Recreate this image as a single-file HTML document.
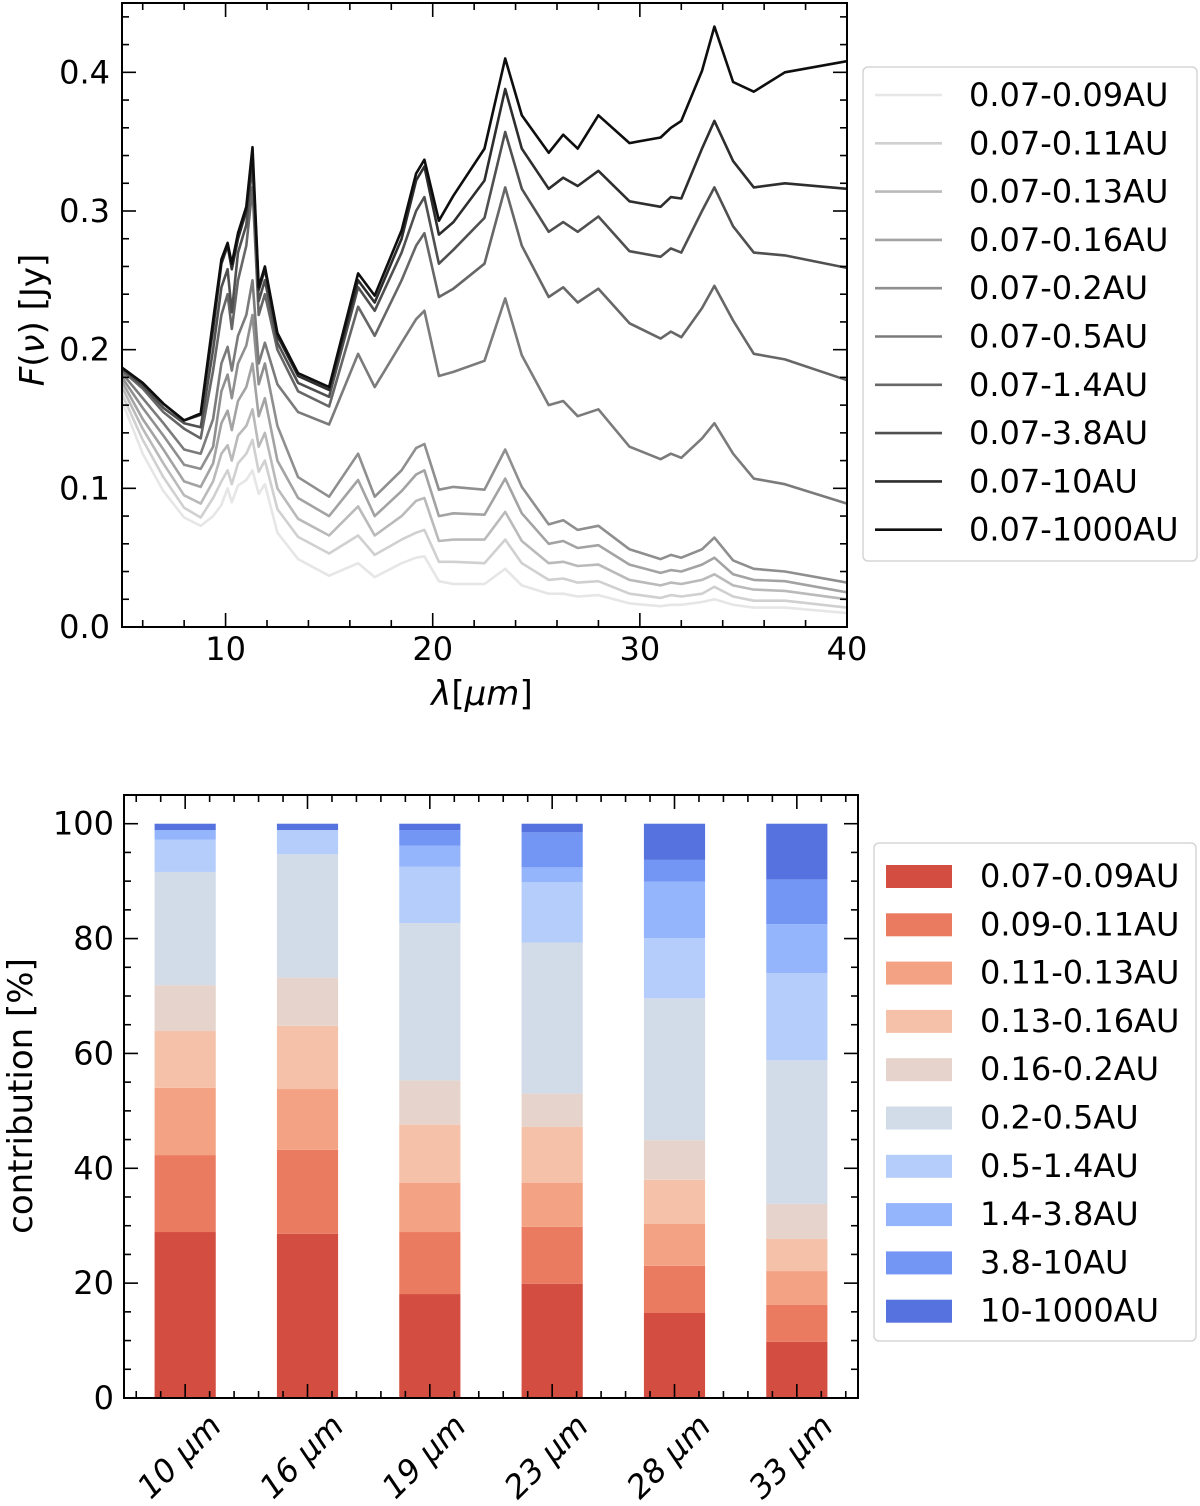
<!DOCTYPE html>
<html><head><meta charset="utf-8">
<style>
html,body{margin:0;padding:0;background:#fff;}
svg{display:block;font-family:"DejaVu Sans","Liberation Sans",sans-serif;}
</style></head>
<body>
<svg id="fig" width="1200" height="1506" viewBox="0 0 1200 1506" xmlns="http://www.w3.org/2000/svg">
<g id="topchart"></g>
<g id="botchart"></g>
</svg>
<script>
// ---------- top chart data ----------
const wavelengths = [5,6,7,8,8.8,9.4,9.8,10.1,10.3,10.6,11.0,11.3,11.6,11.9,12.5,13.5,15,16.4,17.2,18.5,19.2,19.6,20.3,21,22.5,23.5,24.3,25.6,26.3,27,28,29.5,31,31.5,32,33,33.6,34.5,35.5,37,40];
const flux_009 = [.163,.125,.098,.079,.073,.08,.088,.1,.09,.102,.106,.113,.096,.103,.068,.049,.037,.046,.036,.046,.05,.051,.033,.031,.031,.042,.030,.024,.024,.022,.023,.017,.015,.016,.016,.018,.020,.016,.014,.014,.010];
const flux_011 = [.168,.135,.108,.086,.079,.093,.105,.113,.103,.118,.125,.135,.112,.12,.085,.065,.053,.066,.052,.063,.068,.07,.047,.047,.046,.063,.046,.034,.035,.032,.033,.024,.021,.023,.022,.024,.029,.022,.019,.019,.014];
const flux_013 = [.173,.143,.118,.095,.089,.105,.125,.131,.12,.138,.145,.157,.13,.14,.1,.078,.066,.087,.066,.08,.091,.093,.062,.063,.063,.083,.062,.046,.047,.044,.045,.034,.03,.032,.031,.034,.038,.03,.027,.026,.02];
const flux_016 = [.177,.15,.128,.105,.101,.118,.147,.156,.142,.163,.173,.19,.152,.165,.12,.093,.08,.106,.08,.098,.11,.113,.08,.082,.081,.107,.082,.06,.062,.057,.059,.045,.039,.041,.04,.045,.05,.038,.034,.033,.025];
const flux_02 = [.18,.158,.138,.117,.114,.13,.17,.182,.165,.19,.203,.225,.175,.19,.145,.108,.094,.125,.094,.113,.129,.132,.099,.101,.099,.128,.101,.074,.077,.07,.073,.056,.049,.052,.05,.056,.0645,.048,.042,.04,.032];
const flux_05 = [.183,.165,.147,.128,.125,.15,.19,.202,.185,.21,.225,.25,.19,.205,.175,.155,.146,.197,.173,.205,.222,.228,.181,.184,.192,.237,.196,.16,.163,.152,.157,.13,.121,.125,.122,.136,.147,.125,.107,.103,.089];
const flux_14 = [.185,.172,.155,.143,.136,.185,.225,.24,.215,.25,.275,.317,.225,.24,.2,.17,.159,.231,.21,.25,.275,.284,.238,.244,.262,.317,.275,.238,.245,.234,.244,.219,.208,.213,.209,.23,.246,.221,.197,.193,.178];
const flux_38 = [.186,.174,.158,.147,.144,.2,.245,.258,.227,.27,.29,.334,.235,.25,.205,.176,.166,.245,.228,.27,.3,.31,.262,.272,.295,.357,.316,.285,.292,.285,.296,.271,.267,.273,.27,.3,.317,.289,.27,.268,.259];
const flux_10 = [.187,.176,.161,.149,.153,.215,.262,.275,.258,.28,.3,.341,.243,.258,.21,.181,.171,.25,.234,.28,.322,.332,.283,.292,.322,.388,.345,.316,.324,.318,.329,.307,.303,.31,.309,.345,.365,.336,.317,.32,.316];
const flux_1000 = [.187,.176,.161,.149,.154,.221,.265,.277,.262,.284,.303,.346,.245,.26,.212,.183,.173,.255,.239,.286,.327,.337,.293,.311,.345,.41,.369,.342,.355,.345,.369,.349,.353,.36,.365,.401,.433,.393,.386,.4,.408];
const seriesLabels = ["0.07-0.09AU","0.07-0.11AU","0.07-0.13AU","0.07-0.16AU","0.07-0.2AU","0.07-0.5AU","0.07-1.4AU","0.07-3.8AU","0.07-10AU","0.07-1000AU"];
const xTickLabels = ["10","20","30","40"];
const yTickLabels = ["0.0","0.1","0.2","0.3","0.4"];

// ---------- bottom chart data ----------
const bandLabels = ["10 μm","16 μm","19 μm","23 μm","28 μm","33 μm"];
const ringLabels = ["0.07-0.09AU","0.09-0.11AU","0.11-0.13AU","0.13-0.16AU","0.16-0.2AU","0.2-0.5AU","0.5-1.4AU","1.4-3.8AU","3.8-10AU","10-1000AU"];
const contrib_10 = [28.9,13.4,11.7,9.9,8.0,19.7,5.6,1.7,0,1.1];
const contrib_16 = [28.6,14.6,10.6,11.0,8.4,21.5,4.2,0,0,1.1];
const contrib_19 = [18.1,10.8,8.6,10.1,7.7,27.4,9.8,3.7,2.7,1.1];
const contrib_23 = [19.9,9.9,7.7,9.7,5.8,26.3,10.5,2.6,6.1,1.5];
const contrib_28 = [14.8,8.2,7.3,7.7,6.9,24.7,10.5,9.8,3.8,6.3];
const contrib_33 = [9.8,6.4,5.9,5.6,6.1,25.0,15.2,8.5,7.8,9.7];
const bottomYTicks = ["0","20","40","60","80","100"];

const NS = "http://www.w3.org/2000/svg";
function mk(tag, attrs, parent){const e=document.createElementNS(NS,tag);for(const k in attrs)e.setAttribute(k,attrs[k]);parent.appendChild(e);return e;}

// ===== TOP =====
const topG = document.getElementById('topchart');
const TX0=122, TX1=847, TY0=3, TY1=627;
const xs = v => TX0 + (v-5)/(40-5)*(TX1-TX0);
const ys = v => TY1 - v/0.45*(TY1-TY0);
const seriesData=[flux_009,flux_011,flux_013,flux_016,flux_02,flux_05,flux_14,flux_38,flux_10,flux_1000];
const grays=["#e6e6e6","#d0d0d0","#bababa","#a3a3a3","#8f8f8f","#7b7b7b","#676767","#505050","#2e2e2e","#0e0e0e"];
const clip = mk('clipPath',{id:'tclip'},topG);
mk('rect',{x:TX0,y:TY0,width:TX1-TX0,height:TY1-TY0},clip);
const lineG = mk('g',{'clip-path':'url(#tclip)'},topG);
seriesData.forEach((s,i)=>{
  const d = s.map((v,j)=>(j?'L':'M')+xs(wavelengths[j]).toFixed(1)+','+ys(v).toFixed(1)).join('');
  const p = mk('path',{d:d,fill:'none',stroke:grays[i],'stroke-width':2.6,'stroke-linejoin':'round'},lineG);
  
  
});
const tf = mk('rect',{x:TX0,y:TY0,width:TX1-TX0,height:TY1-TY0,fill:'none',stroke:'#000','stroke-width':2},topG);


for(let v=6; v<=40; v+=2){
  const X=xs(v), major = v%10===0, L = major?14:7;
  mk('line',{x1:X,y1:TY1,x2:X,y2:TY1-L,stroke:'#000','stroke-width':1.6},topG);
  mk('line',{x1:X,y1:TY0,x2:X,y2:TY0+L,stroke:'#000','stroke-width':1.6},topG);
}
xTickLabels.forEach(t=>{
  const e=mk('text',{x:xs(+t),y:660,'text-anchor':'middle','font-size':32},topG); e.textContent=t;
  
  
});
for(let k=0;k<=22;k++){
  const v=k*0.02, Y=ys(v), major=k%5===0, L=major?14:7;
  mk('line',{x1:TX0,y1:Y,x2:TX0+L,y2:Y,stroke:'#000','stroke-width':1.6},topG);
  mk('line',{x1:TX1,y1:Y,x2:TX1-L,y2:Y,stroke:'#000','stroke-width':1.6},topG);
}
yTickLabels.forEach(t=>{
  const e=mk('text',{x:110,y:ys(+t)+11,'text-anchor':'end','font-size':32},topG); e.textContent=t;
  
  
});
{
  const e=mk('text',{x:482,y:705,'text-anchor':'middle','font-size':34},topG);
  const a=mk('tspan',{'font-style':'italic'},e); a.textContent='λ';
  e.appendChild(document.createTextNode('['));
  const b=mk('tspan',{'font-style':'italic'},e); b.textContent='μm';
  e.appendChild(document.createTextNode(']'));
  
  
  const f=mk('text',{x:0,y:0,'text-anchor':'middle','font-size':34,transform:'translate(44,320) rotate(-90)'},topG);
  const c=mk('tspan',{'font-style':'italic'},f); c.textContent='F';
  f.appendChild(document.createTextNode('('));
  const d=mk('tspan',{'font-style':'italic'},f); d.textContent='ν';
  f.appendChild(document.createTextNode(') [Jy]'));
  
  
}
{
  const lg=mk('g',{},topG);
  
  
  mk('rect',{x:863,y:67,width:334,height:494,rx:5,fill:'#fff',stroke:'#d5d5d5','stroke-width':1.5},lg);
  seriesLabels.forEach((t,i)=>{
    const Y=95+i*48.3;
    const g=mk('g',{},lg);
    
    
    mk('line',{x1:875,y1:Y,x2:942,y2:Y,stroke:grays[i],'stroke-width':2.6},g);
    const e=mk('text',{x:969,y:Y+11,'font-size':32},g); e.textContent=t;
  });
}

// ===== BOTTOM =====
const botG=document.getElementById('botchart');
const BX0=124, BX1=858, BY0=795, BY1=1398;
const bx = i => BX0 + (i+0.5)*(BX1-BX0)/6;
const by = v => BY1 - v/105*(BY1-BY0);
const colors=["#d34d40","#ea7b60","#f4a284","#f5c1a9","#e6d4cc","#d2dbe8","#b5cdfa","#94b5fc","#7396f5","#5572df"];
const bars=[contrib_10,contrib_16,contrib_19,contrib_23,contrib_28,contrib_33];
const bw=(BX1-BX0)/6*0.5;
bars.forEach((arr,i)=>{
  let acc=0;
  const g=mk('g',{},botG);
  
  
  arr.forEach((v,k)=>{
    if(v<=0){return;}
    const r=mk('rect',{x:bx(i)-bw/2,y:by(acc+v),width:bw,height:by(acc)-by(acc+v),fill:colors[k]},g);
    
    
    acc+=v;
  });
});
const bf = mk('rect',{x:BX0,y:BY0,width:BX1-BX0,height:BY1-BY0,fill:'none',stroke:'#000','stroke-width':2},botG);


for(let k=0;k<=20;k++){
  const v=k*5, Y=by(v), major=k%4===0, L=major?14:7;
  mk('line',{x1:BX0,y1:Y,x2:BX0+L,y2:Y,stroke:'#000','stroke-width':1.6},botG);
  mk('line',{x1:BX1,y1:Y,x2:BX1-L,y2:Y,stroke:'#000','stroke-width':1.6},botG);
}
for(let k=-2;k<=27;k++){
  const u=k*0.2, X=BX0+(u+0.5)*(BX1-BX0)/6;
  if(X<=BX0+1||X>=BX1-1) continue;
  const major = k%5===0, L=major?14:7;
  mk('line',{x1:X,y1:BY1,x2:X,y2:BY1-L,stroke:'#000','stroke-width':1.6},botG);
  mk('line',{x1:X,y1:BY0,x2:X,y2:BY0+L,stroke:'#000','stroke-width':1.6},botG);
}
bottomYTicks.forEach(t=>{
  const e=mk('text',{x:114,y:by(+t)+11,'text-anchor':'end','font-size':32},botG); e.textContent=t;
  
  
});
bandLabels.forEach((t,i)=>{
  const X=bx(i)+38, Y=1428;
  const e=mk('text',{x:X,y:Y,'text-anchor':'end','font-size':32,'font-style':'italic',transform:'rotate(-45 '+X+' '+Y+')'},botG);
  e.textContent=t;
  
  
});
{
  const f=mk('text',{x:0,y:0,'text-anchor':'middle','font-size':34,transform:'translate(32,1096) rotate(-90)'},botG);
  f.textContent='contribution [%]';
  
  
}
{
  const lg=mk('g',{},botG);
  
  
  mk('rect',{x:874,y:843,width:322,height:498,rx:5,fill:'#fff',stroke:'#d5d5d5','stroke-width':1.5},lg);
  ringLabels.forEach((t,i)=>{
    const Y=876+i*48.3;
    const g=mk('g',{},lg);
    
    
    mk('rect',{x:886,y:Y-11,width:66,height:23,fill:colors[i]},g);
    const e=mk('text',{x:980,y:Y+11,'font-size':32},g); e.textContent=t;
  });
}
</script>
</body></html>
